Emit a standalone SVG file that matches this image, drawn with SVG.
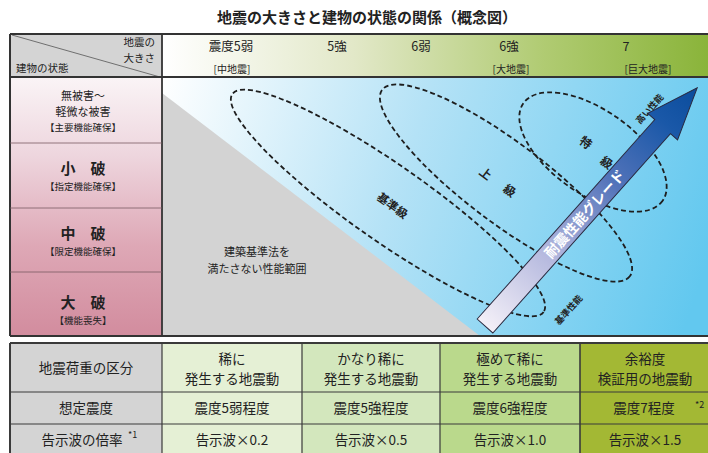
<svg xmlns="http://www.w3.org/2000/svg" width="708" height="453" viewBox="0 0 708 453">
<defs>
<linearGradient id="gHead" x1="162" y1="0" x2="708" y2="0" gradientUnits="userSpaceOnUse">
<stop offset="0" stop-color="#ffffff"/><stop offset="0.35" stop-color="#e2e8c8"/><stop offset="0.7" stop-color="#b0cb72"/><stop offset="1" stop-color="#8ab43a"/>
</linearGradient>
<linearGradient id="gMain" x1="162" y1="77" x2="708" y2="260" gradientUnits="userSpaceOnUse">
<stop offset="0" stop-color="#ffffff"/><stop offset="0.45" stop-color="#b4e2f6"/><stop offset="1" stop-color="#62c8ef"/>
</linearGradient>
<linearGradient id="gPink" x1="0" y1="77" x2="0" y2="336" gradientUnits="userSpaceOnUse">
<stop offset="0" stop-color="#faf4f6"/><stop offset="0.3" stop-color="#eed6de"/><stop offset="0.65" stop-color="#dea8b6"/><stop offset="1" stop-color="#d28c9e"/>
</linearGradient>
<linearGradient id="gArrow" x1="0" y1="0" x2="319" y2="0" gradientUnits="userSpaceOnUse">
<stop offset="0" stop-color="#f4f0f8"/><stop offset="0.3" stop-color="#b4b8de"/><stop offset="0.6" stop-color="#5474ba"/><stop offset="0.85" stop-color="#1a58a8"/><stop offset="1" stop-color="#0a4c9c"/>
</linearGradient>
<style>
text{font-family:"Noto Sans CJK JP","Noto Sans",sans-serif;fill:#222;}
.c{text-anchor:middle;}
.dash{fill:none;stroke:#1e1e1e;stroke-width:1.8;stroke-dasharray:5 3;}
.t14{font-size:13.5px;}
.lbl{font-size:12px;font-weight:bold;}
.sm{font-size:9.5px;}
.big{font-size:15px;font-weight:bold;}
</style>
</defs>

<text class="c" x="367" y="23" style="font-size:15px;font-weight:bold">地震の大きさと建物の状態の関係（概念図）</text>

<g id="top-table">
<rect x="162" y="34" width="546" height="43" fill="url(#gHead)"/>
<rect x="10" y="34" width="152" height="43" fill="#d4d4d4"/>
<rect x="10" y="77" width="152" height="259" fill="url(#gPink)"/>
<rect x="162" y="77" width="546" height="259" fill="url(#gMain)"/>
<polygon points="162,93 162,336 480,336" fill="#d3d3d3"/>
<line x1="12" y1="35" x2="160" y2="77" stroke="#555" stroke-width="0.8"/>
<g fill="none" stroke="#333">
<line x1="10" y1="34" x2="708" y2="34" stroke-width="2.2"/>
<line x1="10" y1="77" x2="708" y2="77" stroke-width="1.8"/>
<line x1="10" y1="336" x2="708" y2="336" stroke-width="2.2"/>
<line x1="10" y1="34" x2="10" y2="336" stroke-width="2"/>
<line x1="162" y1="34" x2="162" y2="336" stroke-width="1.8"/>
<line x1="10" y1="143" x2="162" y2="143" stroke-width="0.8" stroke="#7a5a62"/>
<line x1="10" y1="208" x2="162" y2="208" stroke-width="0.8" stroke="#7a5a62"/>
<line x1="10" y1="272" x2="162" y2="272" stroke-width="0.8" stroke="#7a5a62"/>
</g>
<text x="155" y="46" style="font-size:10.5px;text-anchor:end">地震の</text>
<text x="155" y="62" style="font-size:10.5px;text-anchor:end">大きさ</text>
<text x="16" y="72" style="font-size:10.5px">建物の状態</text>
<g style="font-size:12.5px">
<text class="c" x="231" y="51">震度5弱</text>
<text class="c" x="337" y="51">5強</text>
<text class="c" x="421" y="51">6弱</text>
<text class="c" x="509" y="51">6強</text>
<text class="c" x="626" y="51">7</text>
</g>
<g style="font-size:10px">
<text class="c" x="232" y="73">[中地震]</text>
<text class="c" x="511" y="73">[大地震]</text>
<text class="c" x="648" y="73">[巨大地震]</text>
</g>
</g>

<g id="state-rows">
<text class="c" x="83" y="100" style="font-size:11px">無被害〜</text>
<text class="c" x="83" y="116" style="font-size:11px">軽微な被害</text>
<text class="c sm" x="83" y="131">【主要機能確保】</text>
<text class="c big" x="83" y="174">小　破</text>
<text class="c sm" x="83" y="190">【指定機能確保】</text>
<text class="c big" x="83" y="239">中　破</text>
<text class="c sm" x="83" y="255">【限定機能確保】</text>
<text class="c big" x="83" y="308">大　破</text>
<text class="c sm" x="83" y="324">【機能喪失】</text>
</g>

<g id="below-code">
<text class="c" x="257" y="256" style="font-size:11px">建築基準法を</text>
<text class="c" x="257" y="273" style="font-size:11px">満たさない性能範囲</text>
</g>

<g id="grade-std">
<ellipse class="dash" cx="388" cy="203" rx="190" ry="38" transform="rotate(35 388 203)"/>
<text class="c" transform="translate(390,209) rotate(36)" style="font-size:11.5px;font-weight:bold">基準級</text>
</g>
<g id="grade-upper">
<ellipse class="dash" cx="506" cy="183" rx="155" ry="40" transform="rotate(37 506 183)"/>
<text class="c lbl" transform="translate(483,177) rotate(37)">上</text>
<text class="c lbl" transform="translate(507,194) rotate(37)">級</text>
</g>
<g id="grade-special">
<ellipse class="dash" cx="593" cy="152" rx="85" ry="42" transform="rotate(35 593 152)"/>
<text class="c lbl" transform="translate(583,146) rotate(37)">特</text>
<text class="c lbl" transform="translate(604,166) rotate(37)">級</text>
</g>

<g id="arrow" transform="translate(485,326) rotate(-48.3)">
<polygon points="0,-10.5 267,-10.5 267,-20 319,0 267,20 267,10.5 0,10.5" fill="url(#gArrow)" stroke="#2a2a40" stroke-width="1"/>
<text class="c" x="150" y="5" style="font-size:14px;font-weight:bold;fill:#ffffff">耐震性能グレード</text>
</g>
<text class="c" transform="translate(652,111) rotate(-48)" style="font-size:9px;font-weight:bold">高い性能</text>
<text class="c" transform="translate(571,312) rotate(-48)" style="font-size:9px;font-weight:bold">基準性能</text>

<g id="bottom-table">
<rect x="10" y="343" width="152" height="115" fill="#d4d4d4"/>
<rect x="162" y="343" width="140" height="115" fill="#e5f0d5"/>
<rect x="302" y="343" width="138" height="115" fill="#d3e7bd"/>
<rect x="440" y="343" width="140" height="115" fill="#bad98c"/>
<rect x="580" y="343" width="128" height="115" fill="#a3b834"/>
<g fill="none" stroke="#3a3a3a">
<line x1="10" y1="343" x2="708" y2="343" stroke-width="2"/>
<line x1="10" y1="392" x2="708" y2="392" stroke-width="1.2"/>
<line x1="10" y1="424" x2="708" y2="424" stroke-width="1.2"/>
<line x1="10" y1="343" x2="10" y2="453" stroke-width="2"/>
<line x1="162" y1="343" x2="162" y2="453" stroke-width="1.2"/>
<line x1="302" y1="343" x2="302" y2="453" stroke-width="1.2"/>
<line x1="440" y1="343" x2="440" y2="453" stroke-width="1.2"/>
<line x1="580" y1="343" x2="580" y2="453" stroke-width="1.6"/>
</g>
<g class="t14">
<text class="c" x="86" y="373">地震荷重の区分</text>
<text class="c" x="232" y="364">稀に</text>
<text class="c" x="232" y="384">発生する地震動</text>
<text class="c" x="371" y="364">かなり稀に</text>
<text class="c" x="371" y="384">発生する地震動</text>
<text class="c" x="510" y="364">極めて稀に</text>
<text class="c" x="510" y="384">発生する地震動</text>
<text class="c" x="645" y="364">余裕度</text>
<text class="c" x="645" y="384">検証用の地震動</text>
<text class="c" x="86" y="413">想定震度</text>
<text class="c" x="232" y="413">震度5弱程度</text>
<text class="c" x="371" y="413">震度5強程度</text>
<text class="c" x="510" y="413">震度6強程度</text>
<text class="c" x="644" y="413">震度7程度</text>
<text class="c" x="82" y="445">告示波の倍率</text>
<text class="c" x="232" y="445">告示波×0.2</text>
<text class="c" x="371" y="445">告示波×0.5</text>
<text class="c" x="510" y="445">告示波×1.0</text>
<text class="c" x="645" y="445">告示波×1.5</text>
</g>
<text x="128" y="438" style="font-size:9px">*1</text>
<text x="695" y="408" style="font-size:9px">*2</text>
</g>
</svg>
